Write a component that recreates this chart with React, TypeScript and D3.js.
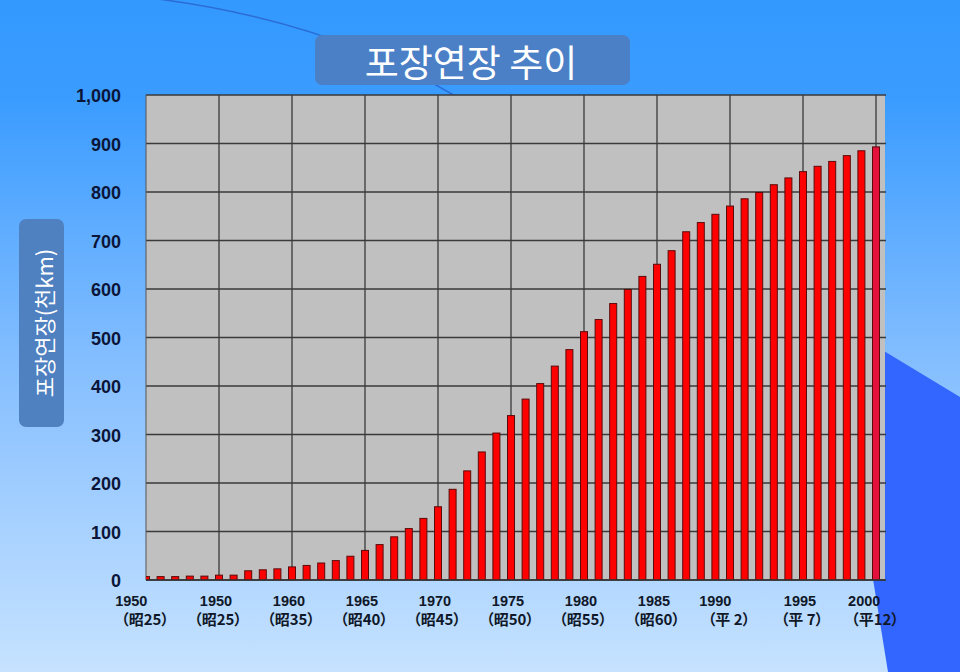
import React from "react";
import * as d3 from "d3";

const years = [
  1950, 1951, 1952, 1953, 1954, 1955, 1956, 1957, 1958, 1959,
  1960, 1961, 1962, 1963, 1964, 1965, 1966, 1967, 1968, 1969,
  1970, 1971, 1972, 1973, 1974, 1975, 1976, 1977, 1978, 1979,
  1980, 1981, 1982, 1983, 1984, 1985, 1986, 1987, 1988, 1989,
  1990, 1991, 1992, 1993, 1994, 1995, 1996, 1997, 1998, 1999, 2000,
];

const pavedLength = [
  7, 7, 7, 8, 8, 10, 10, 19, 21, 23,
  27, 30, 35, 40, 49, 61, 73, 89, 106, 127,
  151, 187, 225, 264, 303, 339, 373, 405, 441, 475,
  512, 537, 570, 599, 626, 651, 679, 718, 737, 754,
  771, 786, 799, 815, 829, 842, 853, 863, 875, 885, 893,
];

const yTicks = [0, 100, 200, 300, 400, 500, 600, 700, 800, 900, 1000];

const xTickYears = [1950, 1955, 1960, 1965, 1970, 1975, 1980, 1985, 1990, 1995, 2000];
const xYearLabels = ["1950", "1950", "1960", "1965", "1970", "1975", "1980", "1985", "1990", "1995", "2000"];
const xYearLabelAt = [1949.2, 1955, 1960, 1965, 1970, 1975, 1980, 1985, 1989.2, 1995, 1999.4];
const xEraLabels = ["（昭25）", "（昭25）", "（昭35）", "（昭40）", "（昭45）", "（昭50）", "（昭55）", "（昭60）", "（平 2）", "（平 7）", "（平12）"];

const gridYears = [1955, 1960, 1965, 1970, 1975, 1980, 1985, 1990, 1995, 2000];

const title = "포장연장 추이";
const yTitle = "포장연장(천km)";

export default function App() {
  const W = 960;
  const H = 672;
  const plot = { left: 146, right: 885, top: 95, bottom: 580 };

  const x = d3.scaleLinear().domain([1950, 2000]).range([146, 876]);
  const y = d3.scaleLinear().domain([0, 1000]).range([plot.bottom, plot.top]);
  const fmt = d3.format(",");
  const barW = 7;

  const arc = d3.path();
  arc.moveTo(150, -2);
  arc.quadraticCurveTo(330, 20, 462, 100);

  const rightShape = [
    [831, 319],
    [960, 397],
    [960, 672],
    [888, 672],
  ];

  return (
    <svg
      width={W}
      height={H}
      viewBox={`0 0 ${W} ${H}`}
      style={{ position: "fixed", left: 0, top: 0, display: "block" }}
    >
      <defs>
        <linearGradient id="bg" x1="0" y1="0" x2="0" y2="1">
          <stop offset="0" stopColor="#3399ff" />
          <stop offset="0.15" stopColor="#3b9cff" />
          <stop offset="0.55" stopColor="#86bfff" />
          <stop offset="1" stopColor="#c6e2ff" />
        </linearGradient>
        <clipPath id="plotClip">
          <rect x={plot.left} y={plot.top} width={plot.right - plot.left} height={plot.bottom - plot.top} />
        </clipPath>
      </defs>

      <rect x={0} y={0} width={W} height={H} fill="url(#bg)" />
      <polygon points={rightShape.map((p) => p.join(",")).join(" ")} fill="#3366ff" />
      <path d={arc.toString()} fill="none" stroke="#2b6cd4" strokeWidth={1.5} />

      {/* Title */}
      <rect x={315} y={35} width={315} height={50} rx={7} fill="#4b80c6" />
      <text
        x={471}
        y={61}
        textAnchor="middle"
        dominantBaseline="central"
        fill="#ffffff"
        fontFamily="'Noto Sans CJK KR', 'Noto Sans', sans-serif"
        fontSize={37}
      >
        {title}
      </text>

      {/* Y title */}
      <rect x={19} y={219} width={45} height={208} rx={7} fill="#4f80c0" />
      <text
        transform="translate(43,323) rotate(-90)"
        textAnchor="middle"
        dominantBaseline="central"
        fill="#ffffff"
        fontFamily="'Noto Sans CJK KR', 'Noto Sans', sans-serif"
        fontSize={22}
      >
        {yTitle}
      </text>

      {/* Plot area */}
      <rect
        x={plot.left}
        y={plot.top}
        width={plot.right - plot.left}
        height={plot.bottom - plot.top}
        fill="#c0c0c0"
      />

      {/* Horizontal grid */}
      {yTicks.map((t) => (
        <line
          key={`h${t}`}
          x1={plot.left}
          x2={plot.right + 1}
          y1={y(t)}
          y2={y(t)}
          stroke="#3a3a3a"
          strokeWidth={1.3}
        />
      ))}
      {/* Vertical grid */}
      {gridYears.map((g) => (
        <line
          key={`v${g}`}
          x1={x(g)}
          x2={x(g)}
          y1={plot.top}
          y2={plot.bottom}
          stroke="#3a3a3a"
          strokeWidth={1.3}
        />
      ))}
      <line x1={plot.left} x2={plot.left} y1={plot.top} y2={plot.bottom} stroke="#555" strokeWidth={1} />

      {/* Bars */}
      <g clipPath="url(#plotClip)">
        {years.map((yr, i) => (
          <rect
            key={yr}
            x={x(yr) - barW / 2}
            y={y(pavedLength[i])}
            width={barW}
            height={plot.bottom - y(pavedLength[i])}
            fill={i === years.length - 1 ? "#e4103c" : "#ff0000"}
            stroke="#5a0a0a"
            strokeWidth={1}
          />
        ))}
      </g>
      <line x1={plot.left} x2={plot.right} y1={plot.bottom} y2={plot.bottom} stroke="#333" strokeWidth={1.3} />

      {/* Y tick labels */}
      {yTicks.map((t) => (
        <text
          key={`yl${t}`}
          x={121}
          y={y(t) + 1}
          textAnchor="end"
          dominantBaseline="central"
          fill="#0b1538"
          fontFamily="'Liberation Sans', Arial, sans-serif"
          fontWeight="bold"
          fontSize={18}
        >
          {fmt(t)}
        </text>
      ))}

      {/* X tick labels */}
      {xTickYears.map((yr, i) => (
        <g key={`xl${i}`}>
          <text
            x={x(xYearLabelAt[i]) - 3}
            y={606}
            textAnchor="middle"
            fill="#101828"
            fontFamily="'Liberation Sans', Arial, sans-serif"
            fontWeight="bold"
            fontSize={14.5}
          >
            {xYearLabels[i]}
          </text>
          <text
            x={x(yr) - 1}
            y={625}
            textAnchor="middle"
            fill="#101828"
            fontFamily="'Noto Sans CJK JP', sans-serif"
            fontWeight="bold"
            fontSize={15}
            style={{ fontFeatureSettings: '"palt"' }}
          >
            {xEraLabels[i]}
          </text>
        </g>
      ))}
    </svg>
  );
}
